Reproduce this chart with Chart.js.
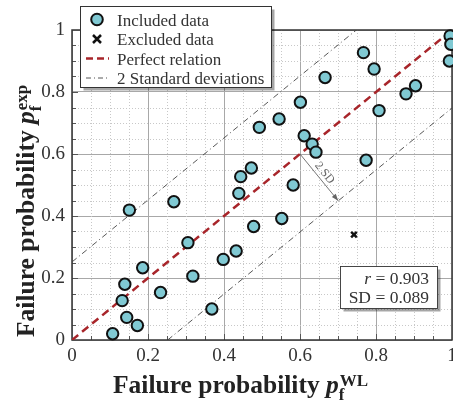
<!DOCTYPE html>
<html>
<head>
<meta charset="utf-8">
<script src="https://cdn.jsdelivr.net/npm/chart.js@4.4.0/dist/chart.umd.min.js"></script>
<style>
html, body { margin: 0; padding: 0; background: #fff; }
#wrap { width: 453px; height: 402px; }
</style>
</head>
<body>
<div id="wrap"><canvas id="myChart"></canvas></div>
<script>
// values
const includedX = [0.995, 0.997, 0.993, 0.767, 0.795, 0.666, 0.879, 0.904, 0.808, 0.601, 0.545, 0.493,
  0.611, 0.632, 0.642, 0.774, 0.472, 0.444, 0.439, 0.582, 0.151, 0.268, 0.552, 0.478,
  0.305, 0.432, 0.398, 0.186, 0.318, 0.139, 0.233, 0.132, 0.368, 0.144, 0.172, 0.107];
const includedY = [0.981, 0.954, 0.900, 0.927, 0.874, 0.847, 0.794, 0.820, 0.740, 0.767, 0.713, 0.686,
  0.659, 0.632, 0.606, 0.580, 0.555, 0.527, 0.473, 0.500, 0.419, 0.446, 0.392, 0.366,
  0.314, 0.287, 0.260, 0.233, 0.206, 0.180, 0.153, 0.127, 0.100, 0.073, 0.047, 0.020];
const excludedX = [0.742];
const excludedY = [0.340];
const tickValues = [0, 0.2, 0.4, 0.6, 0.8, 1];
const stdDev = 0.089;
const corrR = 0.903;
const sdArrowFrom = 0.6;
const legendLabels = ['Included data', 'Excluded data', 'Perfect relation', '2 Standard deviations'];

const SERIF = '"Liberation Serif", "DejaVu Serif", serif';
const CYAN = '#80c9d3';
const RED = '#a8252a';
const off = 2 * stdDev * Math.SQRT2; // vertical offset of the 2 SD band

const pts = (xs, ys) => xs.map((x, i) => ({ x: x, y: ys[i] }));

const frame = {
  id: 'frame',
  beforeDatasetsDraw(chart) {
    const { ctx, chartArea: a, scales: { x, y } } = chart;
    ctx.save();
    // minor dotted grid
    ctx.strokeStyle = '#c8c8c8';
    ctx.lineWidth = 1;
    ctx.setLineDash([1, 2]);
    for (let k = 1; k < 20; k++) {
      if (k % 4 === 0) continue;
      const v = k * 0.05;
      const px = Math.round(x.getPixelForValue(v)) + 0.5;
      const py = Math.round(y.getPixelForValue(v)) + 0.5;
      ctx.beginPath(); ctx.moveTo(px, a.top); ctx.lineTo(px, a.bottom); ctx.stroke();
      ctx.beginPath(); ctx.moveTo(a.left, py); ctx.lineTo(a.right, py); ctx.stroke();
    }
    ctx.setLineDash([]);
    // small inner ticks
    ctx.strokeStyle = '#555';
    for (let k = 1; k < 20; k++) {
      const v = k * 0.05;
      const len = k % 4 === 0 ? 6 : 4;
      const px = Math.round(x.getPixelForValue(v)) + 0.5;
      const py = Math.round(y.getPixelForValue(v)) + 0.5;
      ctx.beginPath(); ctx.moveTo(px, a.bottom); ctx.lineTo(px, a.bottom - len); ctx.stroke();
      ctx.beginPath(); ctx.moveTo(a.left, py); ctx.lineTo(a.left + len, py); ctx.stroke();
    }
    // frame
    ctx.strokeStyle = '#333';
    ctx.lineWidth = 1.5;
    ctx.strokeRect(a.left, a.top, a.right - a.left, a.bottom - a.top);
    ctx.restore();
  },
  afterDatasetsDraw(chart) {
    const { ctx, scales: { x, y } } = chart;
    // 2 SD arrow, perpendicular (in pixels) to the perfect line
    const p0 = { x: x.getPixelForValue(sdArrowFrom), y: y.getPixelForValue(sdArrowFrom) };
    const A = { x: x.getPixelForValue(off), y: y.getPixelForValue(0) };
    const B = { x: x.getPixelForValue(1), y: y.getPixelForValue(1 - off) };
    const dx = B.x - A.x, dy = B.y - A.y;
    const len = Math.hypot(dx, dy);
    const n = { x: -dy / len, y: dx / len };
    const t = ((A.x - p0.x) * n.x + (A.y - p0.y) * n.y);
    const e = { x: p0.x + n.x * t, y: p0.y + n.y * t };
    ctx.save();
    ctx.strokeStyle = '#666';
    ctx.fillStyle = '#666';
    ctx.lineWidth = 0.9;
    ctx.beginPath(); ctx.moveTo(p0.x, p0.y); ctx.lineTo(e.x, e.y); ctx.stroke();
    const ang = Math.atan2(n.y, n.x);
    ctx.translate(e.x, e.y);
    ctx.rotate(ang);
    ctx.beginPath(); ctx.moveTo(0, 0); ctx.lineTo(-7, -2.5); ctx.lineTo(-7, 2.5); ctx.closePath(); ctx.fill();
    ctx.restore();
    ctx.save();
    const mx = (p0.x + e.x) / 2 + n.y * 7, my = (p0.y + e.y) / 2 - n.x * 7;
    ctx.translate(mx, my);
    ctx.rotate(ang);
    ctx.font = '12px ' + SERIF;
    ctx.fillStyle = '#666';
    ctx.textAlign = 'center';
    ctx.textBaseline = 'middle';
    ctx.fillText('2 SD', 0, 0);
    ctx.restore();
  },
  afterDraw(chart) {
    const { ctx } = chart;
    ctx.save();
    // legend
    const lx = 80.5, ly = 6.5, lw = 191, lh = 81;
    ctx.fillStyle = 'rgba(0,0,0,0.35)';
    ctx.fillRect(lx + 3, ly + 3, lw, lh);
    ctx.fillStyle = '#fff';
    ctx.fillRect(lx, ly, lw, lh);
    ctx.strokeStyle = '#333';
    ctx.lineWidth = 1;
    ctx.strokeRect(lx, ly, lw, lh);
    const rows = [19.5, 39, 58.5, 78];
    const sx = 97;
    ctx.beginPath(); ctx.arc(sx, rows[0], 5.8, 0, Math.PI * 2);
    ctx.fillStyle = CYAN; ctx.fill();
    ctx.lineWidth = 2; ctx.strokeStyle = '#111'; ctx.stroke();
    ctx.lineWidth = 2.5;
    ctx.beginPath();
    ctx.moveTo(sx - 4, rows[1] - 4); ctx.lineTo(sx + 4, rows[1] + 4);
    ctx.moveTo(sx + 4, rows[1] - 4); ctx.lineTo(sx - 4, rows[1] + 4);
    ctx.stroke();
    ctx.strokeStyle = RED; ctx.setLineDash([7, 4]);
    ctx.beginPath(); ctx.moveTo(86, rows[2]); ctx.lineTo(109, rows[2]); ctx.stroke();
    ctx.strokeStyle = '#444'; ctx.lineWidth = 0.9; ctx.setLineDash([5, 3, 1, 3]);
    ctx.beginPath(); ctx.moveTo(86, rows[3]); ctx.lineTo(109, rows[3]); ctx.stroke();
    ctx.setLineDash([]);
    ctx.fillStyle = '#333';
    ctx.font = '17px ' + SERIF;
    ctx.textBaseline = 'alphabetic';
    legendLabels.forEach((s, i) => ctx.fillText(s, 117, rows[i] + 6));

    // stats box
    const bx = 340.5, by = 266.5, bw = 97, bh = 42;
    ctx.fillStyle = 'rgba(0,0,0,0.35)';
    ctx.fillRect(bx + 3, by + 3, bw, bh);
    ctx.fillStyle = '#fff';
    ctx.fillRect(bx, by, bw, bh);
    ctx.strokeStyle = '#333';
    ctx.strokeRect(bx, by, bw, bh);
    ctx.fillStyle = '#333';
    ctx.textAlign = 'right';
    ctx.font = '17.5px ' + SERIF;
    const rTxt = ' = ' + corrR.toFixed(3);
    ctx.fillText(rTxt, 429, 284);
    const w = ctx.measureText(rTxt).width;
    ctx.font = 'italic 17.5px ' + SERIF;
    ctx.fillText('r', 429 - w, 284);
    ctx.font = '17.5px ' + SERIF;
    ctx.fillText('SD = ' + stdDev.toFixed(3), 429, 303);
    ctx.textAlign = 'left';

    // axis titles
    const title = (sup) => {
      ctx.font = 'bold 25.5px ' + SERIF;
      ctx.fillStyle = '#222';
      ctx.textBaseline = 'alphabetic';
      const main = 'Failure probability ';
      ctx.fillText(main, 0, 0);
      let cx = ctx.measureText(main).width;
      ctx.font = 'bold italic 25.5px ' + SERIF;
      ctx.fillText('p', cx, 0);
      cx += ctx.measureText('p').width;
      ctx.font = 'bold 17px ' + SERIF;
      ctx.fillText('f', cx, 7);
      ctx.fillText(sup, cx + 1, -7);
    };
    ctx.save(); ctx.translate(113, 393); title('WL'); ctx.restore();
    ctx.save(); ctx.translate(34, 337); ctx.rotate(-Math.PI / 2); title('exp'); ctx.restore();
    ctx.restore();
  }
};

const axis = (isX) => ({
  type: 'linear',
  min: 0,
  max: 1,
  afterBuildTicks: (s) => { s.ticks = tickValues.map(v => ({ value: v })); },
  afterFit: (s) => {
    if (isX) { s.height = 62; s.paddingLeft = 0; s.paddingRight = 0; }
    else { s.width = 72; s.paddingTop = 0; s.paddingBottom = 0; }
  },
  grid: { color: '#a8a8a8', lineWidth: 1, drawTicks: false },
  border: { display: false },
  ticks: {
    padding: isX ? 5 : 7,
    color: '#333',
    font: { family: SERIF, size: 19 },
    callback: (v) => String(v)
  }
});

new Chart(document.getElementById('myChart'), {
  type: 'scatter',
  data: {
    datasets: [{
      type: 'scatter',
      data: pts(includedX, includedY),
      pointRadius: 5.7,
      pointBackgroundColor: CYAN,
      pointBorderColor: '#111',
      pointBorderWidth: 2,
      clip: false
    }, {
      type: 'scatter',
      data: pts(excludedX, excludedY),
      pointStyle: 'crossRot',
      pointRadius: 4,
      pointBorderColor: '#111',
      pointBorderWidth: 2.5
    }, {
      type: 'line',
      data: [{ x: 0, y: 0 }, { x: 1, y: 1 }],
      borderColor: RED,
      borderWidth: 2.5,
      borderDash: [8, 5],
      pointRadius: 0
    }, {
      type: 'line',
      data: [{ x: 0, y: off }, { x: 1 - off, y: 1 }],
      borderColor: '#444',
      borderWidth: 0.9,
      borderDash: [6, 3, 1, 3],
      pointRadius: 0
    }, {
      type: 'line',
      data: [{ x: off, y: 0 }, { x: 1, y: 1 - off }],
      borderColor: '#444',
      borderWidth: 0.9,
      borderDash: [6, 3, 1, 3],
      pointRadius: 0
    }]
  },
  options: {
    responsive: true,
    maintainAspectRatio: false,
    animation: false,
    layout: { autoPadding: false, padding: { top: 30, right: 1, left: 0, bottom: 0 } },
    scales: { x: axis(true), y: axis(false) },
    plugins: { legend: { display: false }, tooltip: { enabled: false } }
  },
  plugins: [frame]
});
</script>
</body>
</html>
